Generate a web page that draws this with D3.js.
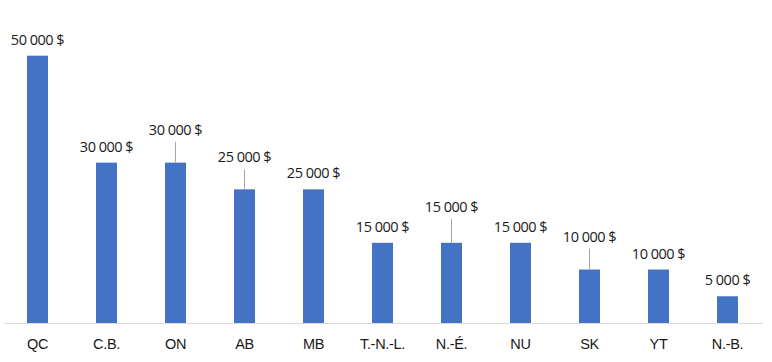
<!DOCTYPE html>
<html>
<head>
<meta charset="utf-8">
<script src="https://cdn.jsdelivr.net/npm/d3@7/dist/d3.min.js"></script>
<style>
  html, body { margin: 0; padding: 0; background: #fff; }
  svg { display: block; font-family: "Open Sans", "Liberation Sans", Arial, sans-serif; }
  .val { font-size: 14.5px; letter-spacing: -0.5px; fill: #1a1a1a; }
  .cat { font-size: 14.5px; letter-spacing: -0.3px; fill: #1a1a1a; }
</style>
</head>
<body>
<svg id="chart" width="772" height="362"></svg>
<script>
"use strict";

// ─── Data ────────────────────────────────────────────────────────────────
const provinces = ["QC", "C.B.", "ON", "AB", "MB", "T.-N.-L.", "N.-É.", "NU", "SK", "YT", "N.-B."];
const amounts = [50000, 30000, 30000, 25000, 25000, 15000, 15000, 15000, 10000, 10000, 5000];

// Labels that were nudged upward, with a leader line back to the bar (px).
const labelLift = { "ON": 17, "AB": 16, "N.-É.": 20, "SK": 17 };

const baseY = 323;
const svg = d3.select("#chart");

const rows = provinces.map((p, i) => ({ key: p, value: amounts[i] }));

const x = d3.scaleBand()
  .domain(provinces)
  .range([3, 762])
  .paddingInner(0.696)
  .paddingOuter(0.348);

const y = d3.scaleLinear()
  .domain([0, 50000])
  .range([baseY, 55.7]);

const fmt = v => d3.format(",")(v).replace(/,/g, " ") + " $";

// Bars
svg.append("g")
  .selectAll("rect")
  .data(rows)
  .join("rect")
    .attr("x", d => x(d.key))
    .attr("y", d => y(d.value))
    .attr("width", x.bandwidth())
    .attr("height", d => baseY - y(d.value))
    .attr("fill", "#4472C4");

// Category axis
const xAxis = svg.append("g")
  .attr("transform", `translate(0,${baseY})`)
  .call(d3.axisBottom(x).tickSize(0).tickPadding(0));
xAxis.select(".domain").attr("stroke", "#d9d9d9").attr("stroke-width", 1);
xAxis.selectAll(".tick text")
  .attr("class", "cat")
  .attr("y", 26)
  .attr("dy", 0)
  .attr("font-family", null)
  .attr("font-size", null)
  .attr("fill", null);

// Leader lines
const cx = d => x(d.key) + x.bandwidth() / 2;
svg.append("g")
  .selectAll("line")
  .data(rows.filter(d => labelLift[d.key]))
  .join("line")
    .attr("x1", cx).attr("x2", cx)
    .attr("y1", d => y(d.value) - labelLift[d.key] - 4)
    .attr("y2", d => y(d.value))
    .attr("stroke", "#a6a6a6")
    .attr("stroke-width", 1);

// Value labels
svg.append("g")
  .selectAll("text")
  .data(rows)
  .join("text")
    .attr("class", "val")
    .attr("text-anchor", "middle")
    .attr("x", cx)
    .attr("y", d => y(d.value) - 11 - (labelLift[d.key] || 0))
    .text(d => fmt(d.value));
</script>
</body>
</html>
